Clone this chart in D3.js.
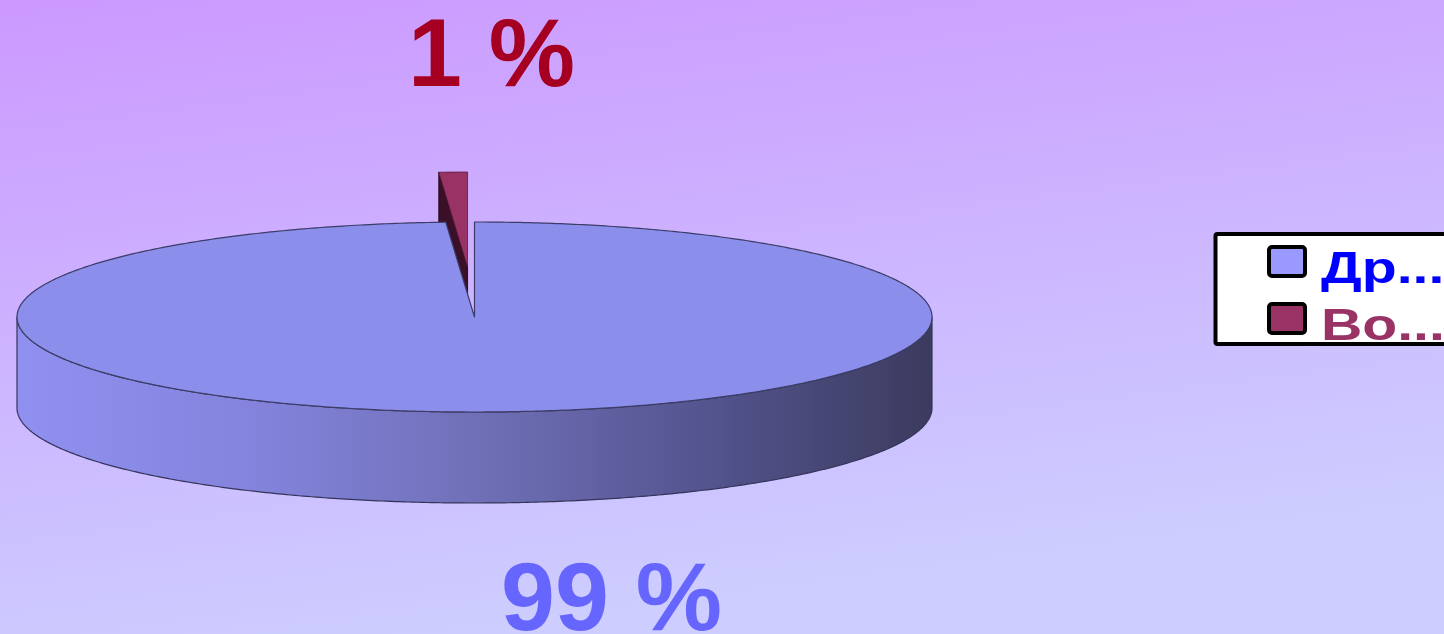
<!DOCTYPE html>
<html><head><meta charset="utf-8">
<script src="https://cdn.jsdelivr.net/npm/d3@7"></script>
<style>html,body{margin:0;padding:0;overflow:hidden;}svg{display:block;}</style>
</head><body>
<svg id="chart" width="1444" height="634"></svg>
<script>
// ---- data ----
const categories = ["Др...", "Во..."];
const values = [99, 1];
const valueLabels = ["99 %", "1 %"];
const sliceColors = ["#8b8feb", "#993366"];
const legendSwatch = ["#9999ff", "#993366"];
const legendTextColors = ["#0000ff", "#993366"];
const labelColors = ["#6666ff", "#a50021"];
const exploded = [false, true];

// ---- layout ----
const W = 1444, H = 634;
const cx = 474.5, cy = 317, rx = 457.5, ry = 95, depth = 91;
const explodeDist = 50;
const svg = d3.select("#chart");
const defs = svg.append("defs");

const bg = defs.append("linearGradient").attr("id","bg")
  .attr("x1",0).attr("y1",0).attr("x2",0.3).attr("y2",1);
bg.append("stop").attr("offset",0).attr("stop-color","#cc99ff");
bg.append("stop").attr("offset",1).attr("stop-color","#cdcdff");
svg.append("rect").attr("width",W).attr("height",H).attr("fill","url(#bg)");

const side = defs.append("linearGradient").attr("id","side")
  .attr("gradientUnits","userSpaceOnUse")
  .attr("x1",cx-rx).attr("y1",0).attr("x2",cx+rx).attr("y2",0);
[[0,"#9090f0"],[0.25,"#8484de"],[0.5,"#7070b8"],[0.75,"#545490"],[1,"#3b3b5e"]]
  .forEach(([o,c])=>side.append("stop").attr("offset",o).attr("stop-color",c));

const pie = d3.pie().sort(null).value(d=>d);
const arcs = pie(values);

// elliptical projection (angle clockwise from 12 o'clock)
const px = (a) => cx + rx*Math.sin(a);
const py = (a) => cy - ry*Math.cos(a);
function arcPts(a0, a1, dx, dy, yOff){
  const n = Math.max(2, Math.ceil(Math.abs(a1-a0)/0.01));
  const pts=[];
  for(let i=0;i<=n;i++){const a=a0+(a1-a0)*i/n; pts.push([px(a)+dx, py(a)+dy+yOff]);}
  return pts;
}
function offset(d){
  if(!exploded[d.index]) return [0,0];
  const m=(d.startAngle+d.endAngle)/2;
  return [Math.sin(m)*explodeDist*0.6 - 6, -Math.cos(m)*explodeDist];
}
const line = d3.line();

// exploded slices first (they sit behind)
arcs.filter(d=>exploded[d.index]).forEach(d=>{
  const [dx,dy]=offset(d);
  const tip=[cx+dx, cy+dy];
  const edge=[px(d.startAngle)+dx, py(d.startAngle)+dy];
  svg.append("path")
    .attr("d", line([tip, edge, [edge[0],edge[1]+depth], [tip[0],tip[1]+depth]])+"Z")
    .attr("fill","#3a1028").attr("stroke","#2a0a1c").attr("stroke-width",1);
  svg.append("path")
    .attr("d", line([tip, ...arcPts(d.startAngle,d.endAngle,dx,dy,0)])+"Z")
    .attr("fill",sliceColors[d.index]).attr("stroke","#5a1a3a").attr("stroke-width",0.8);
});

// main slice: front side then top
arcs.filter(d=>!exploded[d.index]).forEach(d=>{
  const a0=Math.max(d.startAngle,Math.PI/2), a1=Math.min(d.endAngle,3*Math.PI/2);
  if(a1>a0){
    const topE=arcPts(a0,a1,0,0,0), botE=arcPts(a1,a0,0,0,depth);
    svg.append("path").attr("d", line([...topE,...botE])+"Z")
      .attr("fill","url(#side)").attr("stroke","#34345a").attr("stroke-width",1.2);
  }
  svg.append("path")
    .attr("d", line([[cx,cy], ...arcPts(d.startAngle,d.endAngle,0,0,0)])+"Z")
    .attr("fill",sliceColors[d.index]).attr("stroke","#3c3c66").attr("stroke-width",1.2)
    .attr("stroke-linejoin","round");
});

// value labels
const labelPos = [[cx+137, 630],[cx+17, 86]];
arcs.forEach(d=>{
  svg.append("text").attr("x",labelPos[d.index][0]).attr("y",labelPos[d.index][1])
    .attr("text-anchor","middle")
    .attr("font-family","'Liberation Sans', Arial, sans-serif").attr("font-weight","bold")
    .attr("font-size",97).attr("fill",labelColors[d.index]).text(valueLabels[d.index]);
});

// legend
const lg = svg.append("g");
lg.append("rect").attr("x",1215.5).attr("y",234).attr("width",260).attr("height",110)
  .attr("rx",2).attr("fill","#ffffff").attr("stroke","#000").attr("stroke-width",4);
categories.forEach((c,i)=>{
  const y0 = 247 + i*57;
  lg.append("rect").attr("x",1269).attr("y",y0).attr("width",36).attr("height",29)
    .attr("rx",3).attr("fill",legendSwatch[i]).attr("stroke","#000").attr("stroke-width",4);
  lg.append("text")
    .attr("transform",`translate(1321,${y0+36}) scale(1.3,1)`)
    .attr("font-family","'Liberation Sans', Arial, sans-serif").attr("font-weight","bold")
    .attr("font-size",44).attr("fill",legendTextColors[i]).text(c);
});
</script>
</body></html>
